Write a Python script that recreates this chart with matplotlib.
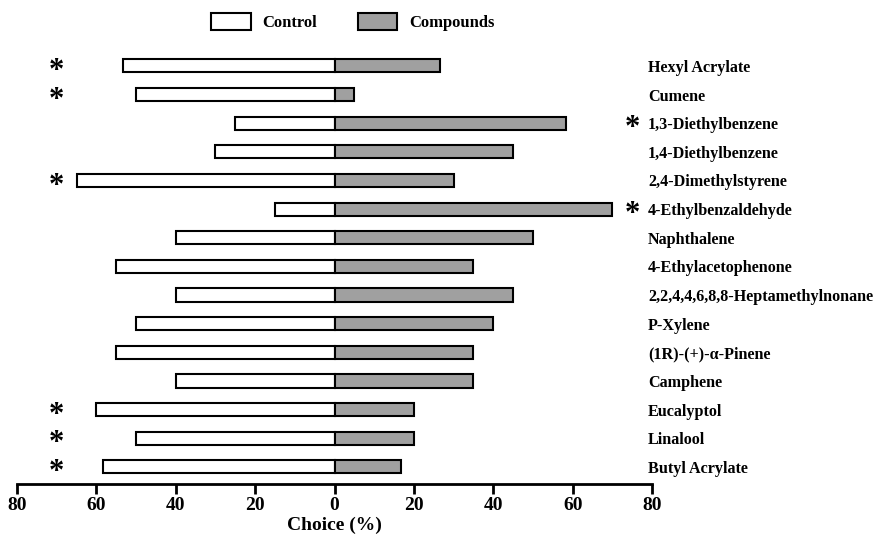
import matplotlib.pyplot as plt
from matplotlib.patches import Patch
import numpy as np

compounds = ['Hexyl Acrylate', 'Cumene', '1,3-Diethylbenzene', '1,4-Diethylbenzene',
             '2,4-Dimethylstyrene', '4-Ethylbenzaldehyde', 'Naphthalene',
             '4-Ethylacetophenone', '2,2,4,4,6,8,8-Heptamethylnonane', 'P-Xylene',
             '(1R)-(+)-α-Pinene', 'Camphene', 'Eucalyptol', 'Linalool', 'Butyl Acrylate']
control = [53.3, 50, 25, 30, 65, 15, 40, 55, 40, 50, 55, 40, 60, 50, 58.3]
treated = [26.7, 5, 58.3, 45, 30, 70, 50, 35, 45, 40, 35, 35, 20, 20, 16.7]
# significance marks: 'L' = asterisk on the left, 'R' = asterisk before the label
signif = ['L', 'L', 'R', '', 'L', 'R', '', '', '', '', '', '', 'L', 'L', 'L']

plt.rcParams['font.family'] = 'Liberation Serif'
plt.rcParams['font.weight'] = 'bold'

fig = plt.figure(figsize=(8.77, 5.35), dpi=100)
ax = fig.add_axes([17 / 877, 0.0953, 635 / 877, 0.8206])

y = np.arange(len(compounds))[::-1]
h = 0.46
ax.barh(y, [-c for c in control], height=h, color='white', edgecolor='black', linewidth=1.5)
ax.barh(y, treated, height=h, color='#a0a0a0', edgecolor='black', linewidth=1.5)

for yi, name, s in zip(y, compounds, signif):
    ax.text(79, yi - 0.07, name, ha='left', va='center', fontsize=11.6, fontweight='bold', clip_on=False)
    if s == 'L':
        ax.text(-70.2, yi - 0.2, '*', ha='center', va='center', fontsize=22, fontweight='bold')
    elif s == 'R':
        ax.text(75, yi - 0.2, '*', ha='center', va='center', fontsize=22, fontweight='bold', clip_on=False)

ax.set_xlim(-80, 80)
ax.set_ylim(-0.6, 14.73)
ticks = np.arange(-80, 81, 20)
ax.set_xticks(ticks)
ax.set_xticklabels([str(abs(t)) for t in ticks], fontsize=14, fontweight='bold')
ax.set_yticks([])
for side in ['top', 'right', 'left']:
    ax.spines[side].set_visible(False)
ax.spines['bottom'].set_linewidth(2)
ax.tick_params(axis='x', direction='out', length=7, width=2, pad=2)
ax.set_xlabel('Choice (%)', fontsize=14, fontweight='bold', labelpad=2)

handles = [Patch(facecolor='white', edgecolor='black', linewidth=1.5, label='Control'),
           Patch(facecolor='#a0a0a0', edgecolor='black', linewidth=1.5, label='Compounds')]
fig.legend(handles=handles, loc='center', bbox_to_anchor=(353 / 877, 1 - 22 / 535), ncol=2,
           frameon=False, prop={'size': 12, 'weight': 'bold'}, handlelength=2.35,
           handleheight=1.2, handletextpad=0.72, columnspacing=2.45)

plt.savefig('out.png', dpi=100)
